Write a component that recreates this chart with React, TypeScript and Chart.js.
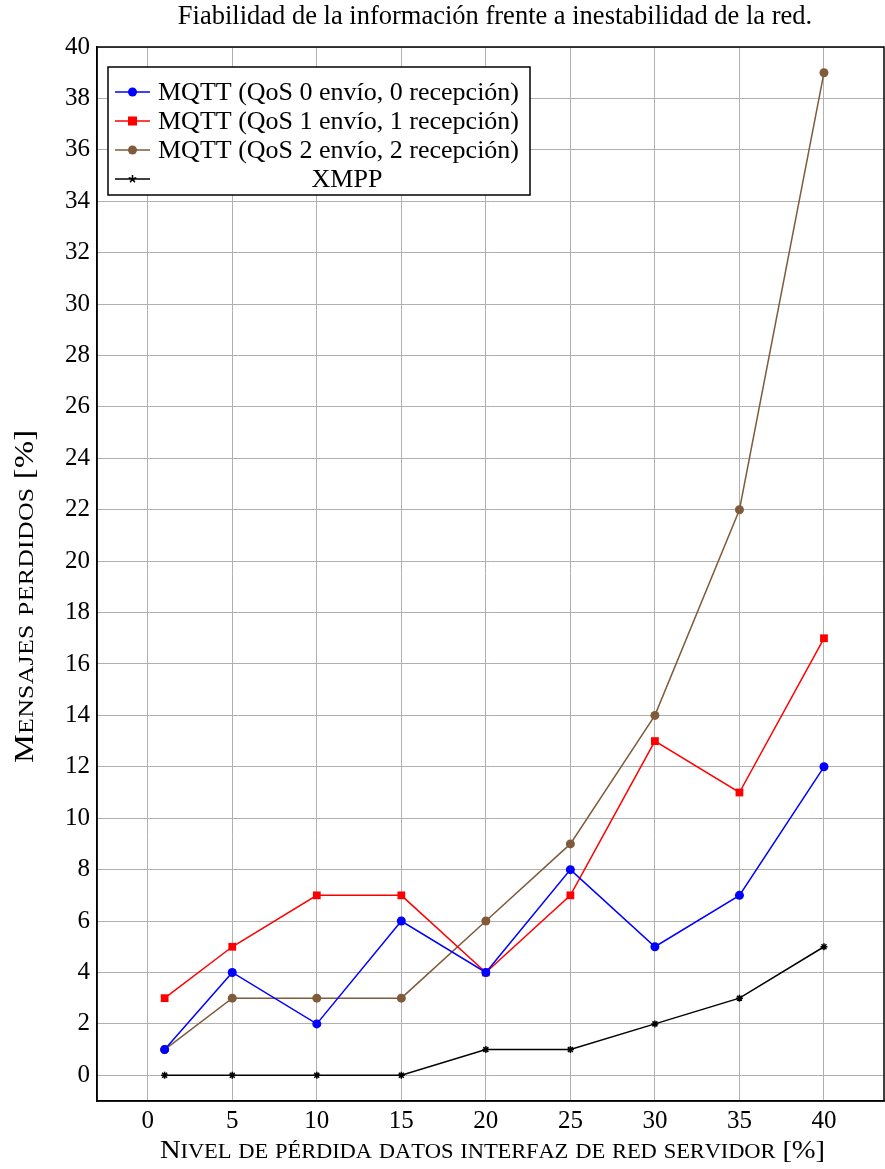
import React, { useEffect, useRef } from "react";
import { Chart, registerables } from "chart.js";

Chart.register(...registerables);

const xValues = [1, 5, 10, 15, 20, 25, 30, 35, 40];
const qos0 = [1, 4, 2, 6, 4, 8, 5, 7, 12];
const qos1 = [3, 5, 7, 7, 4, 7, 13, 11, 17];
const qos2 = [1, 3, 3, 3, 6, 9, 14, 22, 39];
const xmpp = [0, 0, 0, 0, 1, 1, 2, 3, 5];
const xTickValues = [0, 5, 10, 15, 20, 25, 30, 35, 40];
const yTickValues = [0, 2, 4, 6, 8, 10, 12, 14, 16, 18, 20, 22, 24, 26, 28, 30, 32, 34, 36, 38, 40];
const seriesLabels = [
  "MQTT (QoS 0 envío, 0 recepción)",
  "MQTT (QoS 1 envío, 1 recepción)",
  "MQTT (QoS 2 envío, 2 recepción)",
  "XMPP",
];
const titleText = "Fiabilidad de la información frente a inestabilidad de la red.";
const xTitle = "Nivel de pérdida datos interfaz de red servidor [%]";
const yTitle = "Mensajes perdidos [%]";

const FONT = "'Liberation Serif', 'DejaVu Serif', serif";

function drawSmallCaps(
  ctx: CanvasRenderingContext2D,
  text: string,
  big: number,
  small: number,
  cx: number,
  baseline: number,
  targetWidth: number,
  sx: number
) {
  const chars: { s: string; size: number; w: number }[] = [];
  let natural = 0;
  for (const ch of text) {
    const isLower = ch !== ch.toUpperCase();
    const size = isLower ? small : big;
    const s = isLower ? ch.toUpperCase() : ch;
    ctx.font = `${size}px ${FONT}`;
    const w = ctx.measureText(s).width * sx;
    natural += w;
    chars.push({ s, size, w });
  }
  const extra = chars.length > 1 ? (targetWidth - natural) / (chars.length - 1) : 0;
  let x = cx - targetWidth / 2;
  ctx.textAlign = "left";
  ctx.textBaseline = "alphabetic";
  chars.forEach((c) => {
    ctx.save();
    ctx.translate(x, baseline);
    ctx.scale(sx, 1);
    ctx.font = `${c.size}px ${FONT}`;
    ctx.fillText(c.s, 0, 0);
    ctx.restore();
    x += c.w + extra;
  });
}

const textPlugin = {
  id: "texts",
  afterDraw(chart: any) {
    const ctx = chart.ctx;
    ctx.save();
    ctx.fillStyle = "#000";
    ctx.font = `26.5px ${FONT}`;
    ctx.textAlign = "center";
    ctx.textBaseline = "middle";
    ctx.fillText(titleText, 495, 17);
    drawSmallCaps(ctx, xTitle, 26, 20.5, 492.5, 1158, 665, 1.1);
    ctx.translate(33, 596.5);
    ctx.rotate(-Math.PI / 2);
    drawSmallCaps(ctx, yTitle, 27, 21.5, 0, 0, 333, 1.2);
    ctx.restore();
  },
};

const legendPlugin = {
  id: "insideLegend",
  afterDraw(chart: any) {
    const ctx = chart.ctx;
    const x0 = 108, y0 = 67, w = 422, h = 128;
    ctx.save();
    ctx.fillStyle = "#ffffff";
    ctx.fillRect(x0, y0, w, h);
    ctx.strokeStyle = "#000";
    ctx.lineWidth = 1.5;
    ctx.strokeRect(x0, y0, w, h);
    const rows = [92, 121, 150, 179];
    chart.data.datasets.forEach((ds: any, i: number) => {
      const y = rows[i];
      ctx.strokeStyle = ds.borderColor;
      ctx.lineWidth = 1.5;
      ctx.beginPath();
      ctx.moveTo(115, y);
      ctx.lineTo(150, y);
      ctx.stroke();
      const style = ds.pointStyle;
      ctx.fillStyle = ds.pointBackgroundColor;
      ctx.strokeStyle = ds.borderColor;
      if (style === "circle") {
        ctx.beginPath();
        ctx.arc(132.5, y, 4.5, 0, Math.PI * 2);
        ctx.fill();
      } else if (style === "rect") {
        ctx.fillRect(132.5 - 4.5, y - 4.5, 9, 9);
      } else {
        ctx.lineWidth = 1.5;
        ctx.beginPath();
        for (let k = 0; k < 5; k++) {
          const a = -Math.PI / 2 + (k * 2 * Math.PI) / 5;
          ctx.moveTo(132.5, y);
          ctx.lineTo(132.5 + 4 * Math.cos(a), y + 4 * Math.sin(a));
        }
        ctx.stroke();
      }
      ctx.fillStyle = "#000";
      ctx.font = `26px ${FONT}`;
      ctx.textBaseline = "middle";
      if (i < 3) {
        ctx.textAlign = "left";
        ctx.fillText(ds.label, 158, y + 1);
      } else {
        ctx.textAlign = "center";
        ctx.fillText(ds.label, 347, y + 1);
      }
    });
    ctx.restore();
  },
};

export default function App() {
  const ref = useRef<HTMLCanvasElement>(null);
  useEffect(() => {
    document.body.style.margin = "0";
    const mk = (label: string, data: number[], color: string, style: string, radius: number) => ({
      label,
      data: xValues.map((x, i) => ({ x, y: data[i] })),
      borderColor: color,
      backgroundColor: color,
      pointBackgroundColor: color,
      pointBorderColor: color,
      pointStyle: style,
      pointRadius: radius,
      pointBorderWidth: style === "star" ? 1.5 : 0,
      borderWidth: 1.5,
      tension: 0,
    });
    const chart = new Chart(ref.current!, {
      type: "line",
      data: {
        datasets: [
          mk(seriesLabels[0], qos0, "#0000ff", "circle", 4.5),
          mk(seriesLabels[1], qos1, "#ff0000", "rect", 5.5),
          mk(seriesLabels[2], qos2, "#7f5b3b", "circle", 4.5),
          mk(seriesLabels[3], xmpp, "#000000", "star", 3.5),
        ],
      },
      options: {
        responsive: false,
        animation: false,
        layout: { autoPadding: false, padding: { left: 0, right: 1, top: 47, bottom: 0 } },
        plugins: {
          legend: { display: false },
          tooltip: { enabled: false },
          title: { display: false },
        },
        scales: {
          x: {
            type: "linear",
            min: -3,
            max: 43.55,
            afterBuildTicks: (s: any) => {
              s.ticks = xTickValues.map((v) => ({ value: v }));
            },
            grid: { color: "#b0b0b0", lineWidth: 1, drawTicks: false },
            border: { color: "#000", width: 1.5 },
            ticks: { color: "#000", font: { family: FONT, size: 25 }, padding: 5 },
            afterFit: (s: any) => {
              s.height = 68;
              s.paddingLeft = 0;
              s.paddingRight = 0;
            },
          },
          y: {
            type: "linear",
            min: -1,
            max: 40,
            afterBuildTicks: (s: any) => {
              s.ticks = yTickValues.map((v) => ({ value: v }));
            },
            grid: { color: "#b0b0b0", lineWidth: 1, drawTicks: false },
            border: { color: "#000", width: 1.5 },
            ticks: { color: "#000", font: { family: FONT, size: 25 }, padding: 7 },
            afterFit: (s: any) => {
              s.width = 97;
              s.paddingTop = 0;
              s.paddingBottom = 0;
            },
          },
        },
      },
      plugins: [
        textPlugin,
        legendPlugin,
        {
          id: "frame",
          afterDraw(chart: any) {
            const { left, right, top, bottom } = chart.chartArea;
            const ctx = chart.ctx;
            ctx.save();
            ctx.strokeStyle = "#000";
            ctx.lineWidth = 1.5;
            ctx.strokeRect(left, top, right - left, bottom - top);
            ctx.restore();
          },
        },
      ],
    });
    return () => chart.destroy();
  }, []);
  return <canvas ref={ref} width={885} height={1169} style={{ display: "block" }} />;
}
